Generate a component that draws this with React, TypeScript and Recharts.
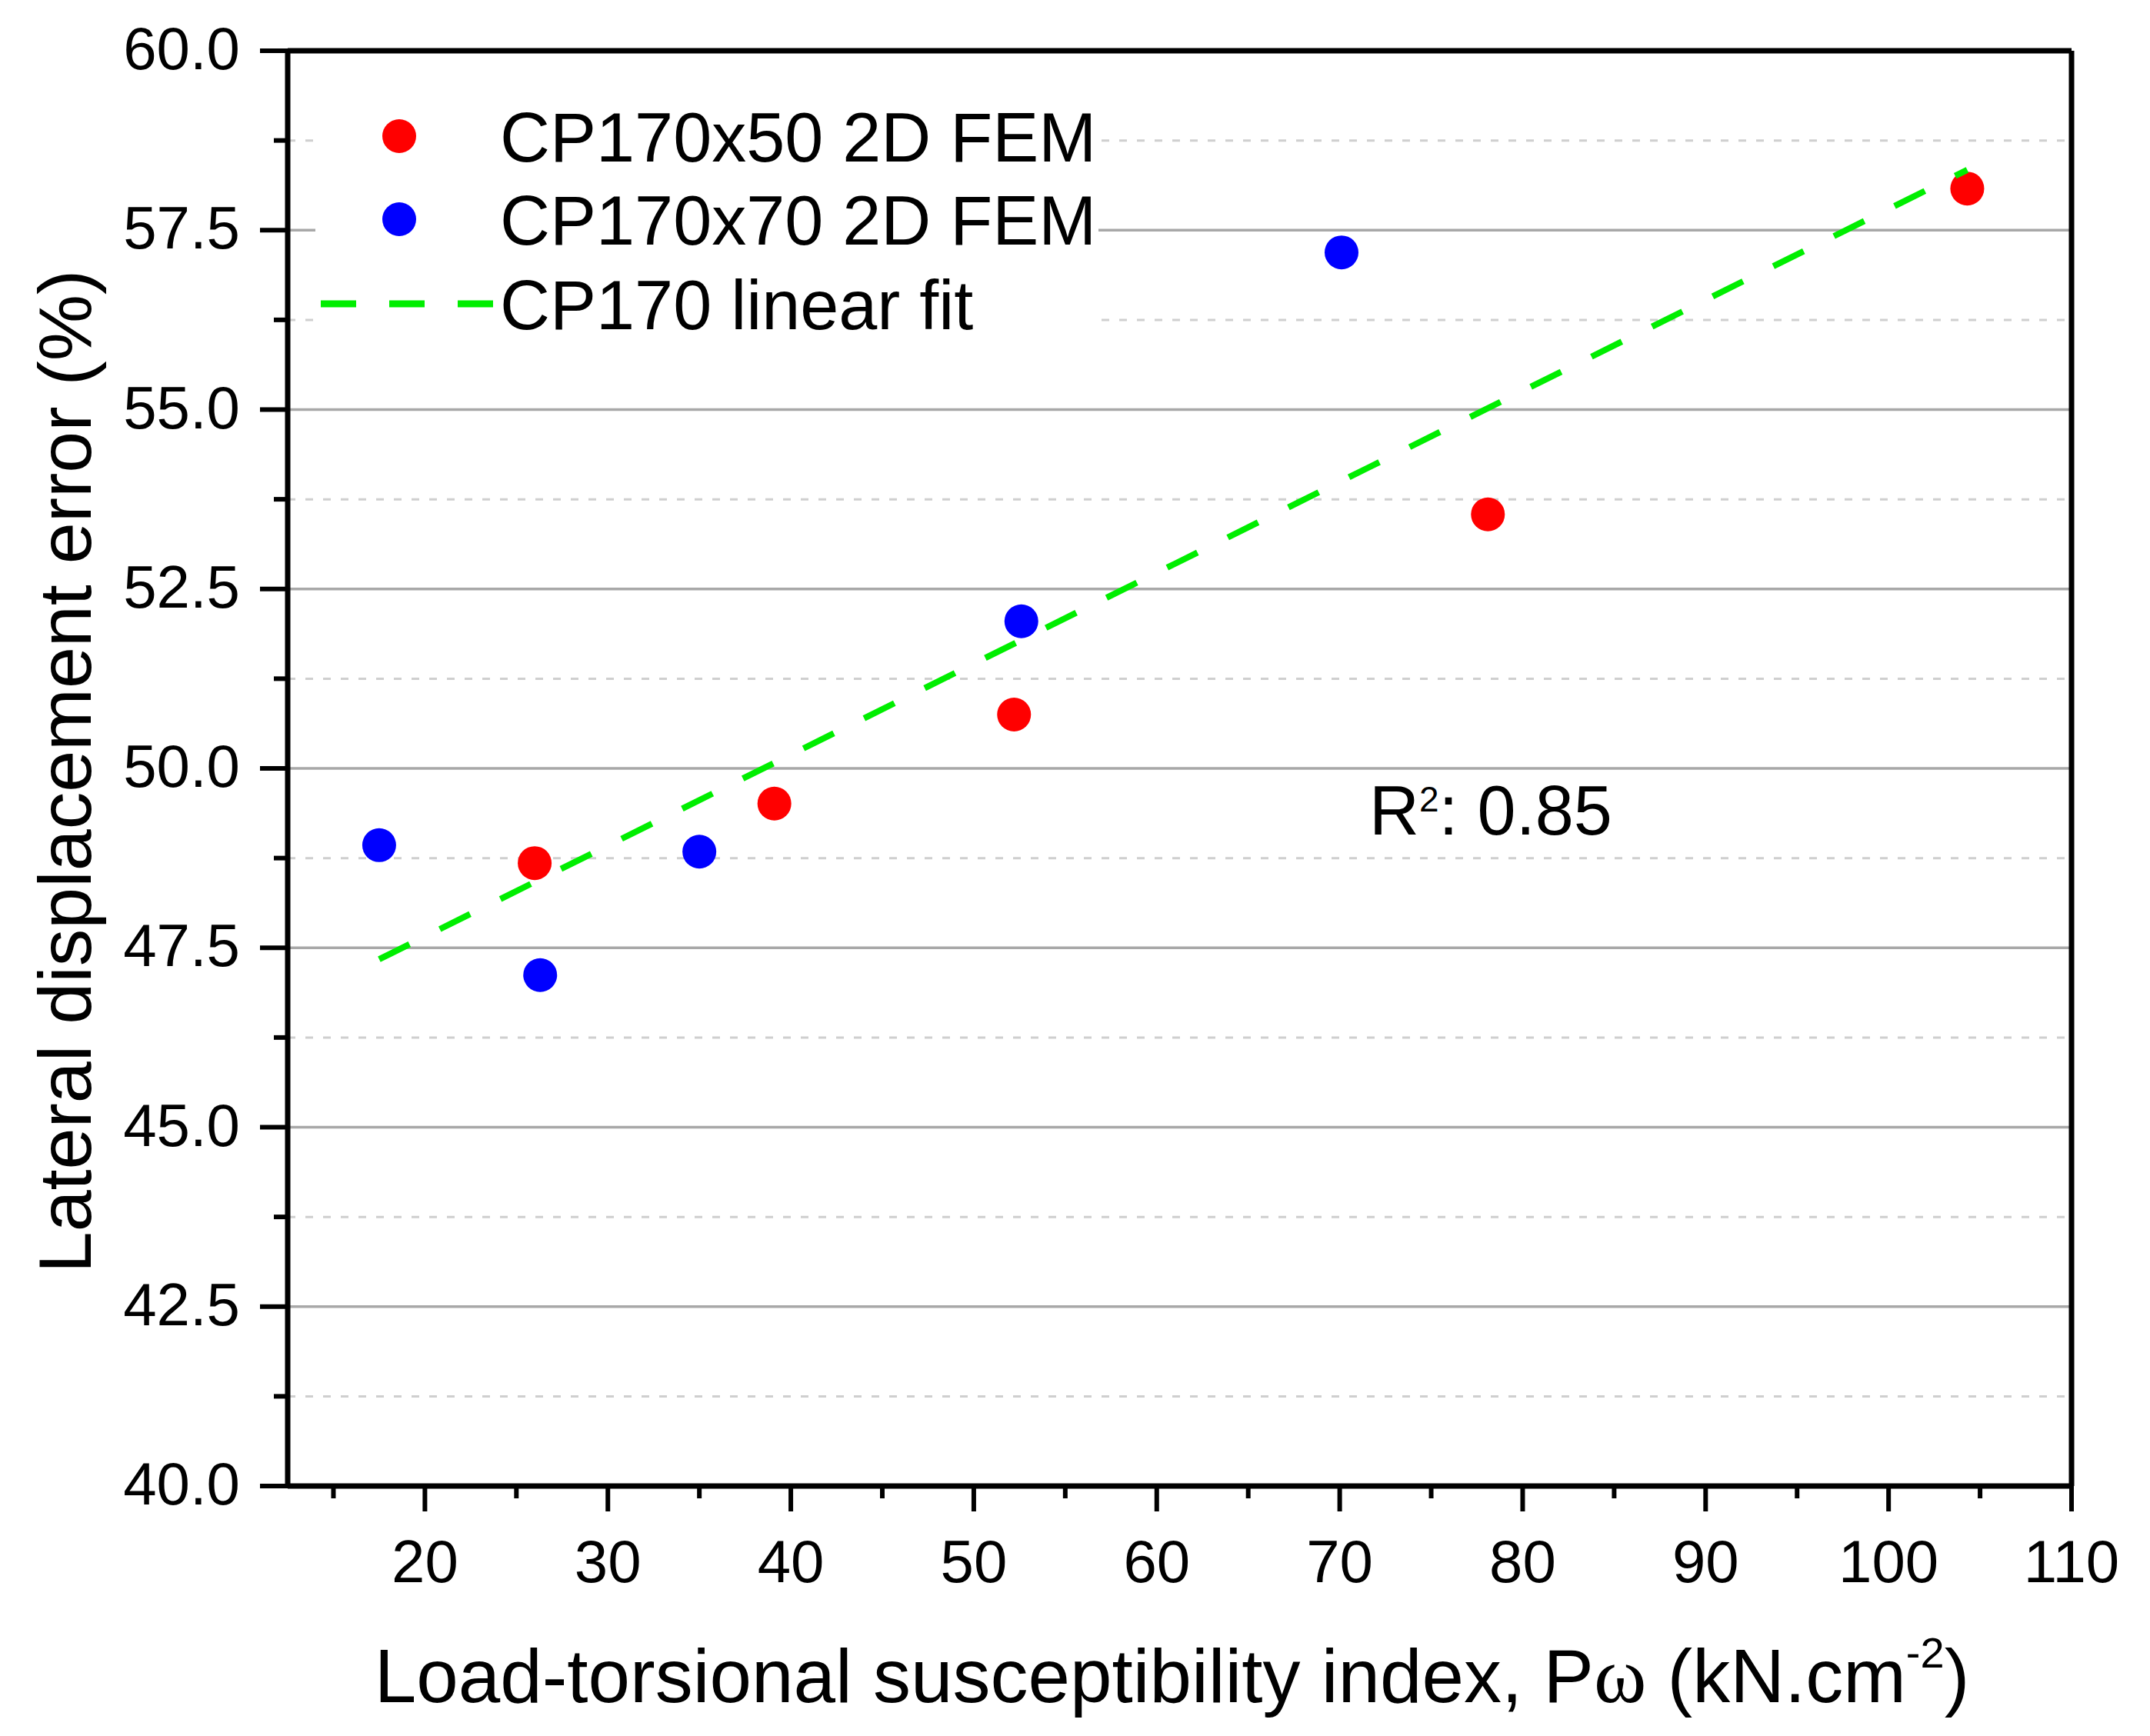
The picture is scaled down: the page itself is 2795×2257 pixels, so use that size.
import React from 'react'
import {
  ScatterChart,
  Scatter,
  XAxis,
  YAxis,
  CartesianGrid,
  ReferenceLine,
  Legend,
} from 'recharts'

// CP170x50 2D FEM
const cp50X = [26.0, 39.1, 52.2, 78.1, 104.3]
const cp50Y = [48.68, 49.51, 50.75, 53.54, 58.08]
// CP170x70 2D FEM
const cp70X = [17.5, 26.3, 35.0, 52.6, 70.1]
const cp70Y = [48.93, 47.12, 48.84, 52.05, 57.19]
// linear fit end points
const fitX = [17.5, 104.3]
const fitY = [47.34, 58.34]

const xMajor = [20, 30, 40, 50, 60, 70, 80, 90, 100, 110]
const xMinor = [15, 25, 35, 45, 55, 65, 75, 85, 95, 105]
const yMajor = [40, 42.5, 45, 47.5, 50, 52.5, 55, 57.5, 60]
const yMinor = [41.25, 43.75, 46.25, 48.75, 51.25, 53.75, 56.25, 58.75]

const legendNames = ['CP170x50 2D FEM', 'CP170x70 2D FEM', 'CP170 linear fit']
const r2Text = '0.85'

const RED = '#ff0000'
const BLUE = '#0000ff'
const GREEN = '#00ee00'
const FONT = "'Liberation Sans', Arial, sans-serif"

const toPoints = (xs: number[], ys: number[]) => xs.map((x, i) => ({ x, y: ys[i] }))

const cp50 = toPoints(cp50X, cp50Y)
const cp70 = toPoints(cp70X, cp70Y)
const fit = toPoints(fitX, fitY)

const xTicks = [...xMinor, ...xMajor].sort((a, b) => a - b)
const yTicks = [...yMinor, ...yMajor].sort((a, b) => a - b)

function XTick(props: any) {
  const { x, y, payload } = props
  const major = xMajor.includes(payload.value)
  return (
    <g>
      <line x1={x} x2={x} y1={y} y2={y + (major ? 33 : 16)} stroke="#000" strokeWidth={6} />
      {major && (
        <text x={x} y={y + 125} textAnchor="middle" fontSize={78} fontFamily={FONT} fill="#000">
          {payload.value}
        </text>
      )}
    </g>
  )
}

function YTick(props: any) {
  const { x, y, payload } = props
  const major = yMajor.includes(payload.value)
  return (
    <g>
      <line x1={x} x2={x - (major ? 36 : 18)} y1={y} y2={y} stroke="#000" strokeWidth={6} />
      {major && (
        <text x={x - 62} y={y + 24} textAnchor="end" fontSize={78} fontFamily={FONT} fill="#000">
          {payload.value.toFixed(1)}
        </text>
      )}
    </g>
  )
}

function YTitle(props: any) {
  const { viewBox } = props
  const cx = viewBox.x + 118
  const cy = viewBox.y + viewBox.height / 2 + 4
  return (
    <text
      x={cx}
      y={cy}
      transform={`rotate(-90, ${cx}, ${cy})`}
      textAnchor="middle"
      fontSize={97}
      fontFamily={FONT}
      fill="#000"
    >
      Lateral displacement error (%)
    </text>
  )
}

function XTitle(props: any) {
  const { viewBox } = props
  const cx = viewBox.x + viewBox.width / 2 - 10
  const cy = viewBox.y + 281
  return (
    <text x={cx} y={cy} textAnchor="middle" fontSize={98} fontFamily={FONT} fill="#000">
      Load-torsional susceptibility index, P
      <tspan fontFamily="'Liberation Serif', serif" fontSize={104}>ω</tspan> (kN.cm
      <tspan dy={-45} fontSize={56}>-2</tspan>
      <tspan dy={45}>)</tspan>
    </text>
  )
}

function LegendBox() {
  const textProps = { fontSize: 90, fontFamily: FONT, fill: '#000' }
  return (
    <svg width={1018} height={390} style={{ display: 'block' }}>
      <rect x={0} y={0} width={1018} height={390} fill="#fff" />
      <circle cx={109} cy={87} r={22} fill={RED} />
      <text x={240} y={120} {...textProps}>{legendNames[0]}</text>
      <circle cx={109} cy={195} r={22} fill={BLUE} />
      <text x={240} y={228} {...textProps}>{legendNames[1]}</text>
      <line x1={7} x2={232} y1={305} y2={305} stroke={GREEN} strokeWidth={9} strokeDasharray="46 43" />
      <text x={240} y={338} {...textProps}>{legendNames[2]}</text>
    </svg>
  )
}

const dot = (color: string) => (p: any) => <circle cx={p.cx} cy={p.cy} r={22} fill={color} />

export default function App() {
  return (
    <div style={{ position: 'absolute', left: 0, top: 0, width: 2795, height: 2257, background: '#fff' }}>
      <ScatterChart width={2795} height={2257} margin={{ top: 66, right: 102, bottom: 0, left: 0 }}>
        <CartesianGrid vertical={false} horizontalValues={yMinor} stroke="#cfcfcf" strokeWidth={3} strokeDasharray="10 13" />
        <CartesianGrid vertical={false} horizontalValues={yMajor} stroke="#a8a8a8" strokeWidth={3.5} />
        <XAxis
          type="number"
          dataKey="x"
          domain={[12.5, 110]}
          ticks={xTicks}
          interval={0}
          allowDataOverflow
          height={325}
          tickSize={0}
          tickMargin={0}
          tickLine={false}
          tick={(p: any) => <XTick {...p} />}
          axisLine={{ stroke: '#000', strokeWidth: 7 }}
          label={<XTitle />}
        />
        <YAxis
          type="number"
          dataKey="y"
          domain={[40, 60]}
          ticks={yTicks}
          interval={0}
          allowDataOverflow
          width={374}
          tickSize={0}
          tickMargin={0}
          tickLine={false}
          tick={(p: any) => <YTick {...p} />}
          axisLine={{ stroke: '#000', strokeWidth: 7 }}
          label={<YTitle />}
        />
        <ReferenceLine y={60} stroke="#000" strokeWidth={7} />
        <ReferenceLine x={110} stroke="#000" strokeWidth={7} />
        <Scatter name={legendNames[0]} data={cp50} shape={dot(RED)} isAnimationActive={false} />
        <Scatter name={legendNames[1]} data={cp70} shape={dot(BLUE)} isAnimationActive={false} />
        <Scatter
          name={legendNames[2]}
          data={fit}
          line={{ stroke: GREEN, strokeWidth: 8, strokeDasharray: '44 44' }}
          shape={() => <g />}
          isAnimationActive={false}
        />
        <Legend
          layout="horizontal"
          verticalAlign="middle"
          align="center"
          content={() => <LegendBox />}
          wrapperStyle={{ position: 'absolute', left: 410, top: 90, width: 1018, height: 390 }}
        />
      </ScatterChart>
      <svg
        width={2795}
        height={2257}
        style={{ position: 'absolute', left: 0, top: 0, pointerEvents: 'none' }}
      >
        <text x={1780} y={1085} fontSize={90} fontFamily={FONT} fill="#000">
          R<tspan dy={-30} fontSize={46}>2</tspan>
          <tspan dy={30}>: {r2Text}</tspan>
        </text>
      </svg>
    </div>
  )
}
